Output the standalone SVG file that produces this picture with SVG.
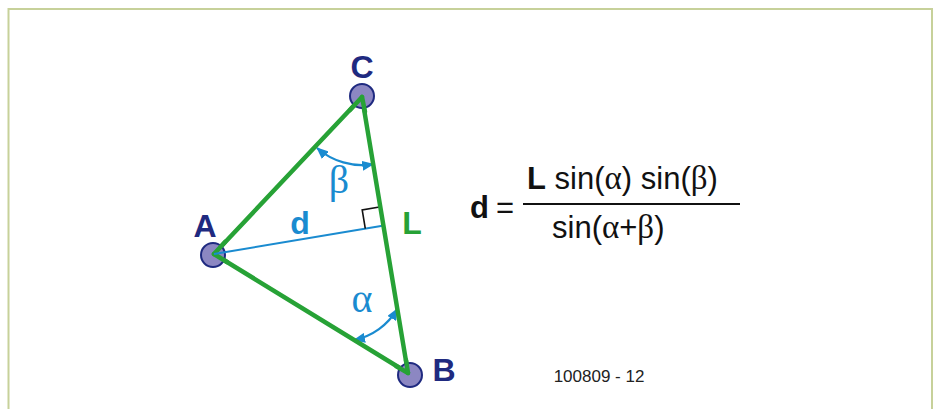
<svg xmlns="http://www.w3.org/2000/svg" width="939" height="409" viewBox="0 0 939 409">
  <style>
    .frame { fill: none; stroke: #c7d19a; stroke-width: 2; }
    .pt { fill: #8c87c2; stroke: #1f2a80; stroke-width: 2; }
    .vlabel { font-family: "Liberation Sans", Arial, sans-serif; font-weight: bold; font-size: 32px; fill: #1f2a80; text-anchor: middle; }
    .edge { stroke: #27a236; stroke-width: 4.5; stroke-linecap: round; stroke-linejoin: round; fill: none; }
    .dline { stroke: #1a8bd0; stroke-width: 2; fill: none; }
    .arc { stroke: #1a8bd0; stroke-width: 2.2; fill: none; marker-start: url(#ah); marker-end: url(#ah); }
    .greek { font-family: "Liberation Serif", "Times New Roman", serif; font-size: 40px; fill: #1a8bd0; text-anchor: middle; }
    .bl { font-family: "Liberation Sans", Arial, sans-serif; font-weight: bold; font-size: 32px; text-anchor: middle; }
    .f { font-family: "Liberation Sans", Arial, sans-serif; font-size: 31px; fill: #111; }
    .fb { font-weight: bold; }
    .g { font-family: "Liberation Serif", "Times New Roman", serif; font-size: 33px; }
    .ref { font-family: "Liberation Sans", Arial, sans-serif; font-size: 17px; fill: #222; text-anchor: middle; }
  </style>
  <defs>
    <marker id="ah" viewBox="0 0 12 10" refX="11" refY="5" markerWidth="12" markerHeight="10" markerUnits="userSpaceOnUse" orient="auto-start-reverse">
      <path d="M0,0 L12,5 L0,10 z" fill="#1a8bd0"/>
    </marker>
  </defs>

  <rect class="frame" x="8.5" y="9" width="923.5" height="430"/>

  <g id="connectors">
    <line class="dline" x1="214" y1="254" x2="384" y2="225.5"/>
    <polyline points="365.3,228.6 362.2,209.9 380.9,206.8" fill="none" stroke="#111" stroke-width="1.6"/>
    <path class="arc" d="M317,148 A68,68 0 0 0 373.2,164.1"/>
    <path class="arc" d="M354,340 A65,65 0 0 0 397.3,308.9"/>
    <g id="edges">
      <line class="edge" x1="362" y1="97" x2="214" y2="254"/>
      <line class="edge" x1="214" y1="254" x2="408" y2="373"/>
      <line class="edge" x1="408" y1="373" x2="362" y2="97"/>
    </g>
  </g>

  <g id="node-C">
    <circle class="pt" cx="362" cy="96" r="12"/>
    <line class="edge" x1="362" y1="97" x2="350" y2="110"/>
    <line class="edge" x1="362" y1="97" x2="365" y2="112"/>
    <text class="vlabel" x="362" y="78">C</text>
  </g>
  <g id="node-A">
    <circle class="pt" cx="213" cy="255" r="12"/>
    <line class="edge" x1="214" y1="254" x2="225" y2="242"/>
    <line class="edge" x1="214" y1="254" x2="227" y2="262"/>
    <line class="dline" x1="214" y1="254" x2="226" y2="252"/>
    <text class="vlabel" x="205" y="237">A</text>
  </g>
  <g id="node-B">
    <circle class="pt" cx="410" cy="375" r="12"/>
    <line class="edge" x1="408" y1="373" x2="396" y2="366"/>
    <line class="edge" x1="408" y1="373" x2="406" y2="360"/>
    <text class="vlabel" x="444" y="381">B</text>
  </g>

  <g id="labels">
    <text class="greek" x="339" y="193">β</text>
    <text class="greek" x="362" y="312">α</text>
    <text class="bl" x="300" y="234" fill="#1a8bd0">d</text>
    <text class="bl" x="412" y="234" fill="#27a236">L</text>
  </g>

  <g id="formula">
    <text class="f fb" x="470" y="218">d</text>
    <text class="f" x="496" y="218">=</text>
    <line x1="523" y1="204" x2="740" y2="204" stroke="#111" stroke-width="2"/>
    <text class="f" x="527" y="189"><tspan class="fb">L</tspan> sin(<tspan class="g">α</tspan>) sin(<tspan class="g">β</tspan>)</text>
    <text class="f" x="552" y="238">sin(<tspan class="g">α</tspan>+<tspan class="g">β</tspan>)</text>
  </g>

  <text class="ref" x="599" y="382">100809 - 12</text>
</svg>
